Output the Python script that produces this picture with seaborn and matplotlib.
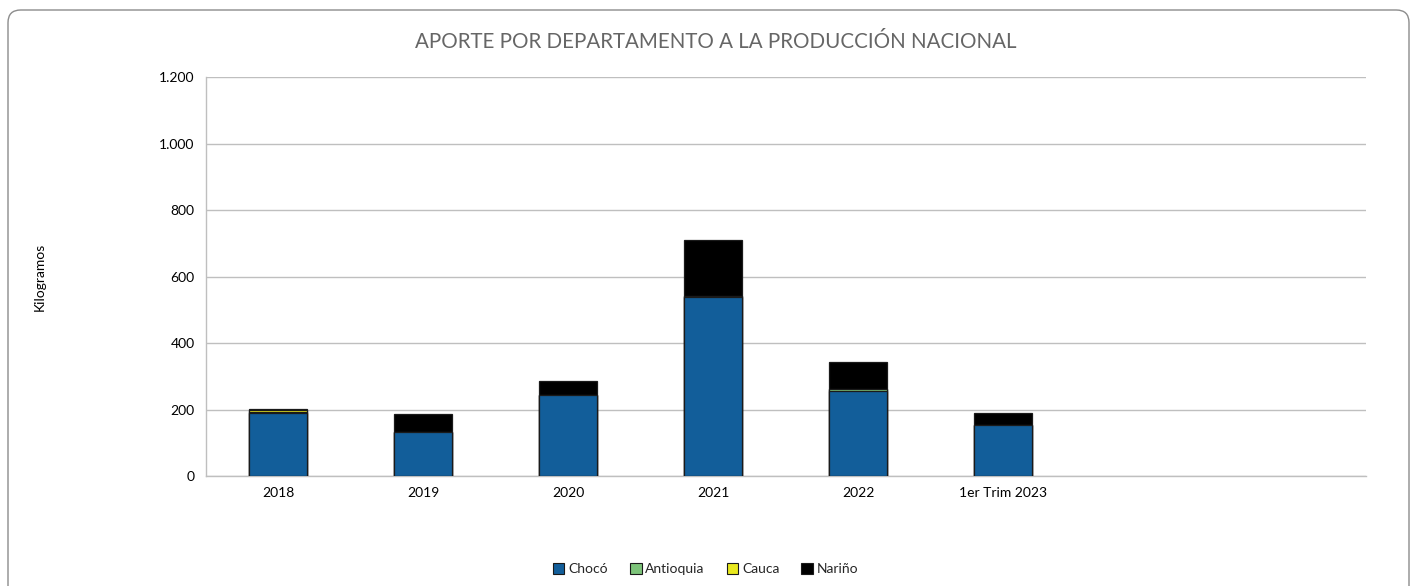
import matplotlib
matplotlib.use("Agg")
import matplotlib.pyplot as plt
from matplotlib.patches import FancyBboxPatch, Patch
from matplotlib.ticker import FuncFormatter
import numpy as np
import pandas as pd
import seaborn as sns

# Production per department (kg)
years = ["2018", "2019", "2020", "2021", "2022", "1er Trim 2023"]
choco = [190, 133, 245, 538, 257, 153]
antioquia = [4, 0, 0, 2, 6, 0]
cauca = [5, 0, 0, 0, 0, 0]
narino = [2, 53, 40, 171, 80, 37]

departments = ["Chocó", "Antioquia", "Cauca", "Nariño"]
colors = ["#125E9A", "#7DC47A", "#E8E81E", "#000000"]

df = pd.DataFrame({"Año": years, "Chocó": choco, "Antioquia": antioquia,
                   "Cauca": cauca, "Nariño": narino})

sns.set_theme(style="white")
plt.rcParams["font.family"] = ["Lato", "DejaVu Sans"]

fig = plt.figure(figsize=(14.11, 5.86), dpi=100)
ax = fig.add_axes([0.1458, 0.1877, 0.968 - 0.1458, 0.8686 - 0.1877])

# Stacked bars: draw cumulative totals from the top series down
cum = df[departments].cumsum(axis=1)
for dep, col in reversed(list(zip(departments, colors))):
    sns.barplot(x=df["Año"], y=cum[dep], color=col, width=0.4,
                edgecolor="#1a1a1a", linewidth=0.9, saturation=1, ax=ax,
                zorder=3)

ax.set_xlim(-0.5, 7.5)
ax.set_ylim(0, 1200)
ax.set_yticks(np.arange(0, 1201, 200))
ax.yaxis.set_major_formatter(FuncFormatter(lambda v, p: f"{int(v):,}".replace(",", ".")))
ax.grid(axis="y", color="#BFBFBF", linewidth=1, zorder=0)
ax.set_axisbelow(True)
for side in ["top", "right"]:
    ax.spines[side].set_visible(False)
ax.spines["left"].set_color("#BFBFBF")
ax.spines["bottom"].set_color("#BFBFBF")
ax.spines["left"].set_linewidth(1)
ax.spines["bottom"].set_linewidth(1)
ax.tick_params(axis="both", length=0, labelsize=10, colors="#000000", pad=8)
ax.set_xlabel("")
ax.set_ylabel("")

fig.text(0.0285, 0.5275, "Kilogramos", rotation=90, ha="center", va="center",
         fontsize=10, color="#000000")
fig.text(0.507, 0.929, "APORTE POR DEPARTAMENTO A LA PRODUCCIÓN NACIONAL",
         ha="center", va="center", fontsize=14.8, color="#666666",
         fontweight="normal")

handles = [Patch(facecolor=c, edgecolor="#1a1a1a", linewidth=0.8, label=d)
           for d, c in zip(departments, colors)]
fig.legend(handles=handles, loc="center", bbox_to_anchor=(0.5, 0.029), ncol=4,
           frameon=False, fontsize=10, handlelength=0.85, handleheight=0.85,
           handletextpad=0.25, columnspacing=1.6)

border = FancyBboxPatch((8 / 1411, -0.05), 1401 / 1411, (586 - 10) / 586 + 0.05,
                        boxstyle="round,pad=0,rounding_size=0.009",
                        transform=fig.transFigure, facecolor="none",
                        edgecolor="#8C8C8C", linewidth=1, mutation_aspect=2.4)
fig.patches.append(border)

fig.savefig("out.png", dpi=100)
